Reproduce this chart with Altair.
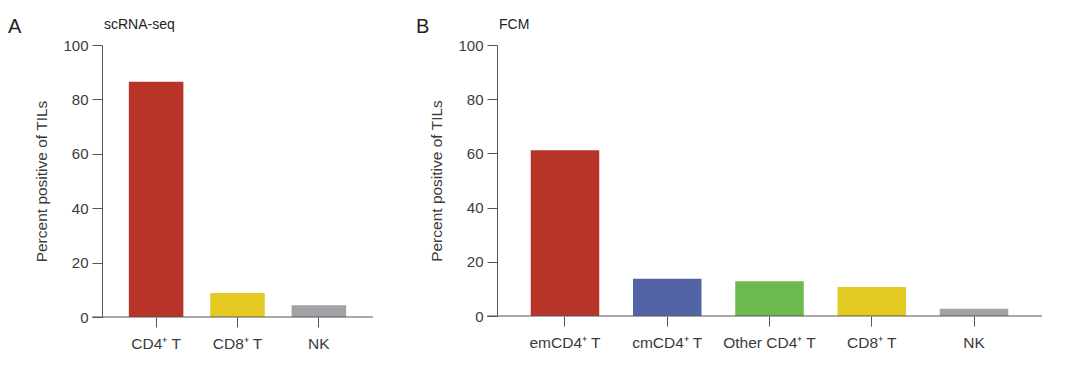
import altair as alt
import pandas as pd

# ---- data ----
a_categories = ["CD4⁺ T", "CD8⁺ T", "NK"]
a_values = [86.5, 8.8, 4.3]

b_categories = ["emCD4⁺ T", "cmCD4⁺ T", "Other CD4⁺ T", "CD8⁺ T", "NK"]
b_values = [61.2, 13.7, 12.8, 10.7, 2.7]

y_ticks = [0, 20, 40, 60, 80, 100]

# ---- styles ----
a_palette = ["#B83328", "#E5C923", "#A1A1A6"]
b_palette = ["#B83328", "#5264A6", "#6CB94D", "#E5C923", "#A1A1A6"]
FONT = "Liberation Sans"
AXIS_COLOR = "#555555"
TEXT_COLOR = "#3a3a3a"


def panel(letter, title, cats, vals, palette, width, height, letter_dx):
    df = pd.DataFrame({"cat": cats, "val": vals, "col": palette})
    one = pd.DataFrame({"z": [0]})
    x = alt.X(
        "cat:N",
        sort=cats,
        scale=alt.Scale(paddingInner=0.33, paddingOuter=0.33),
        axis=alt.Axis(title=None, labelAngle=0, domain=False, tickSize=10,
                      labelPadding=9, labelFontSize=15.5),
    )
    y = alt.Y(
        "val:Q",
        scale=alt.Scale(domain=[0, 100], nice=False),
        axis=alt.Axis(values=y_ticks, title="Percent positive of TILs", tickSize=10,
                      grid=False, labelPadding=4, labelFontSize=15,
                      titleFontSize=15.5, titleFontWeight="normal", titlePadding=13),
    )
    bars = alt.Chart(df).mark_bar().encode(
        x=x, y=y, color=alt.Color("col:N", scale=None)
    )
    base = alt.Chart(one).mark_rule(color=AXIS_COLOR, strokeWidth=1).encode(
        y=alt.datum(0), x=alt.value(-10), x2=alt.value(width)
    )
    let = alt.Chart(one).mark_text(
        text=letter, fontSize=20, align="left", baseline="alphabetic",
        font=FONT, color="#222222"
    ).encode(x=alt.value(letter_dx), y=alt.value(-12))
    ttl = alt.Chart(one).mark_text(
        text=title, fontSize=14, align="left", baseline="alphabetic",
        font=FONT, color="#222222"
    ).encode(x=alt.value(2), y=alt.value(-16))
    return alt.layer(bars, base, let, ttl).properties(width=width, height=height)


pa = panel("A", "scRNA-seq", a_categories, a_values, a_palette, 271, 272, -94)
pb = panel("B", "FCM", b_categories, b_values, b_palette, 545, 271, -81)

chart = (
    alt.hconcat(pa, pb, spacing=42)
    .properties(padding={"left": 0, "top": 9, "right": 5, "bottom": 5})
    .configure_view(stroke=None)
    .configure_axis(
        labelFont=FONT, titleFont=FONT, labelColor=TEXT_COLOR, titleColor=TEXT_COLOR,
        domainColor=AXIS_COLOR, tickColor=AXIS_COLOR, domainWidth=1, tickWidth=1,
    )
)

chart.save("out.html", embed_options={"renderer": "svg", "actions": False})
